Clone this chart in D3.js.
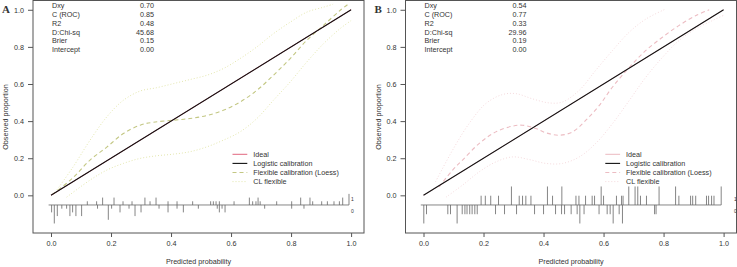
<!DOCTYPE html>
<html>
<head>
<meta charset="utf-8">
<script src="https://cdn.jsdelivr.net/npm/d3@7"></script>
<style>
  body { margin: 0; background: #fff; }
  text { font-family: "Liberation Sans", Arial, sans-serif; fill: #333; }
</style>
</head>
<body>
<div id="chart"></div>
<script>
// ---- data ----
const xTicks = [0, 0.2, 0.4, 0.6, 0.8, 1.0];
const yTicks = [0, 0.2, 0.4, 0.6, 0.8, 1.0];
const statLabels = ["Dxy", "C (ROC)", "R2", "D:Chi-sq", "Brier", "Intercept"];
const statsA = ["0.70", "0.85", "0.48", "45.68", "0.15", "0.00"];
const statsB = ["0.54", "0.77", "0.33", "29.96", "0.19", "0.00"];
const legendLabels = ["Ideal", "Logistic calibration", "Flexible calibration (Loess)", "CL flexible"];

const idealLine = [[0, 0], [1, 1]];
const logisticA = [[0, 0], [1, 1]];
const logisticB = [[0, 0], [1, 1]];

const flexA = [[0.005, 0.005], [0.07, 0.09], [0.13, 0.19], [0.186, 0.26], [0.241, 0.333], [0.297, 0.378],
  [0.341, 0.394], [0.408, 0.405], [0.463, 0.414], [0.519, 0.43], [0.574, 0.458], [0.63, 0.503],
  [0.686, 0.566], [0.741, 0.647], [0.797, 0.737], [0.852, 0.835], [0.908, 0.916], [0.963, 0.996], [0.99, 1.03]];
const clUpperA = [[0.02, 0.03], [0.074, 0.154], [0.13, 0.297], [0.186, 0.423], [0.241, 0.512], [0.297, 0.562],
  [0.352, 0.58], [0.408, 0.602], [0.463, 0.624], [0.519, 0.647], [0.574, 0.683], [0.63, 0.737],
  [0.686, 0.80], [0.741, 0.871], [0.797, 0.933], [0.852, 0.987], [0.908, 1.014], [0.94, 1.03]];
const clLowerA = [[0.052, -0.01], [0.13, 0.082], [0.186, 0.136], [0.241, 0.172], [0.297, 0.199], [0.352, 0.213],
  [0.408, 0.222], [0.463, 0.235], [0.519, 0.261], [0.574, 0.297], [0.63, 0.342], [0.686, 0.414],
  [0.741, 0.512], [0.797, 0.611], [0.852, 0.718], [0.908, 0.817], [0.963, 0.898], [1.0, 0.942]];

const flexB = [[0.052, 0.046], [0.097, 0.136], [0.13, 0.19], [0.186, 0.28], [0.241, 0.342], [0.297, 0.373],
  [0.33, 0.378], [0.374, 0.36], [0.408, 0.337], [0.452, 0.324], [0.497, 0.342], [0.541, 0.405],
  [0.586, 0.485], [0.63, 0.584], [0.686, 0.69], [0.741, 0.781], [0.797, 0.853], [0.852, 0.916],
  [0.908, 0.969], [0.952, 1.0]];
const clUpperB = [[0.04, 0.073], [0.097, 0.244], [0.152, 0.387], [0.208, 0.495], [0.263, 0.543], [0.308, 0.548],
  [0.363, 0.52], [0.419, 0.498], [0.463, 0.503], [0.519, 0.566], [0.574, 0.674], [0.63, 0.781],
  [0.686, 0.88], [0.741, 0.95], [0.808, 1.005]];
const clLowerB = [[0.075, -0.01], [0.13, 0.055], [0.186, 0.127], [0.241, 0.18], [0.297, 0.207], [0.352, 0.193],
  [0.408, 0.172], [0.463, 0.172], [0.519, 0.207], [0.574, 0.28], [0.63, 0.387], [0.686, 0.512],
  [0.741, 0.637], [0.797, 0.745], [0.852, 0.835], [0.908, 0.898], [0.963, 0.942], [1.0, 0.97]];

// rug: [predicted probability, count]
const rugA1 = [[0.121, 1], [0.152, 1], [0.172, 2], [0.21, 2], [0.24, 1], [0.27, 1], [0.313, 2], [0.33, 1],
  [0.35, 2], [0.39, 1], [0.42, 1], [0.472, 1], [0.532, 1], [0.541, 1], [0.55, 1], [0.561, 1], [0.61, 1],
  [0.661, 2], [0.672, 1], [0.683, 1], [0.69, 2], [0.697, 1], [0.752, 1], [0.802, 1], [0.832, 2],
  [0.863, 2], [0.872, 1], [0.902, 1], [0.921, 1], [0.943, 1], [0.961, 1], [0.972, 2], [0.993, 3]];
const rugA0 = [[0.002, 2], [0.011, 5], [0.021, 3], [0.036, 1], [0.052, 1], [0.063, 3], [0.072, 2], [0.083, 3],
  [0.102, 3], [0.155, 1], [0.191, 4], [0.202, 1], [0.23, 2], [0.26, 1], [0.28, 3], [0.3, 2], [0.36, 1],
  [0.39, 2], [0.42, 1], [0.441, 2], [0.491, 1], [0.554, 1], [0.561, 2], [0.57, 1], [0.58, 2], [0.712, 1],
  [0.802, 1], [0.843, 1]];
const rugB1 = [[0.192, 1], [0.206, 1], [0.224, 1], [0.25, 1], [0.293, 2], [0.319, 1], [0.33, 1], [0.341, 1],
  [0.358, 1], [0.413, 2], [0.43, 1], [0.461, 2], [0.508, 1], [0.518, 1], [0.54, 1], [0.562, 1], [0.57, 1],
  [0.592, 2], [0.6, 1], [0.643, 1], [0.66, 1], [0.665, 1], [0.684, 2], [0.705, 2], [0.714, 2], [0.723, 1],
  [0.743, 1], [0.785, 2], [0.84, 2], [0.851, 1], [0.89, 1], [0.897, 1], [0.907, 1], [0.943, 1], [0.95, 1],
  [0.96, 1], [0.968, 1], [0.992, 2]];
const rugB0 = [[0.001, 2], [0.01, 1], [0.081, 1], [0.09, 1], [0.112, 2], [0.129, 1], [0.138, 1], [0.145, 1],
  [0.154, 1], [0.162, 1], [0.171, 1], [0.179, 1], [0.24, 1], [0.27, 1], [0.31, 1], [0.37, 1], [0.4, 1],
  [0.44, 1], [0.46, 1], [0.47, 1], [0.492, 1], [0.512, 1], [0.521, 2], [0.535, 1], [0.585, 1], [0.612, 1],
  [0.622, 1], [0.632, 2], [0.652, 1], [0.663, 2], [0.77, 1], [0.775, 1]];

const panels = [
  { id: "A", dx: 0, stats: statsA, logistic: logisticA, flex: flexA, up: clUpperA, lo: clLowerA,
    rug1: rugA1, rug0: rugA0, rugLabelX: 1.0, legendX: 232.5,
    idealColor: "#e2677f", flexColor: "#c3c783", clColor: "#e3e6ad" },
  { id: "B", dx: 372.5, stats: statsB, logistic: logisticB, flex: flexB, up: clUpperB, lo: clLowerB,
    rug1: rugB1, rug0: rugB0, rugLabelX: 1.035, legendX: 232.8,
    idealColor: "#ebb9c0", flexColor: "#ecbcc2", clColor: "#f4d9dc" }
];

const fontSize = "7.2px";
const width = 737, height = 267;
const svg = d3.select("#chart").append("svg")
  .attr("width", width)
  .attr("height", height);

panels.forEach(p => drawPanel(p));

function drawPanel(p) {
  const g = svg.append("g").attr("transform", `translate(${p.dx},0)`);

  const x = d3.scaleLinear().domain([-0.06, 1.043]).range([33, 364]);
  const y = d3.scaleLinear().domain([-0.203, 1.05]).range([233, 0.5]);

  const clipId = "clip" + p.id;
  g.append("clipPath").attr("id", clipId)
    .append("rect")
    .attr("x", 33).attr("y", 0.5)
    .attr("width", 331).attr("height", 232.5);

  // box
  g.append("rect")
    .attr("x", 33).attr("y", 0.5)
    .attr("width", 331).attr("height", 232.5)
    .attr("fill", "none")
    .attr("stroke", "#555")
    .attr("stroke-width", 1);

  // axes
  const xAxis = d3.axisBottom(x).tickValues(xTicks).tickFormat(d3.format(".1f")).tickSize(4).tickPadding(4);
  const yAxis = d3.axisLeft(y).tickValues(yTicks).tickFormat(d3.format(".1f")).tickSize(5).tickPadding(4);

  const gx = g.append("g").attr("transform", "translate(0,233)").call(xAxis);
  const gy = g.append("g").attr("transform", "translate(33,0)").call(yAxis);
  [gx, gy].forEach(a => {
    a.select(".domain").remove();
    a.selectAll("line").attr("stroke", "#555");
    a.selectAll("text").style("font-size", fontSize).attr("fill", "#333");
  });

  // axis titles
  g.append("text")
    .attr("x", 198.5).attr("y", 264)
    .attr("text-anchor", "middle")
    .style("font-size", fontSize)
    .text("Predicted probability");
  g.append("text")
    .attr("transform", "translate(8,117) rotate(-90)")
    .attr("text-anchor", "middle")
    .style("font-size", fontSize)
    .text("Observed proportion");

  // panel letter
  g.append("text")
    .attr("x", 2).attr("y", 13)
    .style("font-family", "'Liberation Serif', 'Times New Roman', serif")
    .style("font-weight", "bold")
    .style("font-size", "11px")
    .attr("fill", "#111")
    .text(p.id);

  const line = d3.line()
    .x(d => x(d[0]))
    .y(d => y(d[1]))
    .curve(d3.curveCatmullRom.alpha(0.5));
  const straight = d3.line().x(d => x(d[0])).y(d => y(d[1]));

  const plot = g.append("g").attr("clip-path", `url(#${clipId})`);

  // confidence limits
  [p.up, p.lo].forEach(band => {
    plot.append("path")
      .datum(band)
      .attr("d", line)
      .attr("fill", "none")
      .attr("stroke", p.clColor)
      .attr("stroke-width", 1)
      .attr("stroke-dasharray", "1,2");
  });

  // flexible calibration
  plot.append("path")
    .datum(p.flex)
    .attr("d", line)
    .attr("fill", "none")
    .attr("stroke", p.flexColor)
    .attr("stroke-width", 1.1)
    .attr("stroke-dasharray", "4,3");

  // ideal line (under logistic)
  plot.append("path")
    .datum(idealLine)
    .attr("d", straight)
    .attr("fill", "none")
    .attr("stroke", p.idealColor)
    .attr("stroke-width", 1);

  // logistic calibration
  plot.append("path")
    .datum(p.logistic)
    .attr("d", straight)
    .attr("fill", "none")
    .attr("stroke", "#111")
    .attr("stroke-width", 1.1);

  // rug / distribution of predictions
  const baseY = y(-0.052);
  const maxCount = d3.max([...p.rug1, ...p.rug0], d => d[1]);
  const h = d3.scaleLinear().domain([0, maxCount]).range([0, 18.5]);
  const ext = d3.extent([...p.rug1, ...p.rug0], d => d[0]);

  g.append("line")
    .attr("x1", x(ext[0]) - 3).attr("x2", x(ext[1]))
    .attr("y1", baseY).attr("y2", baseY)
    .attr("stroke", "#666").attr("stroke-width", 0.8);

  g.selectAll(".rug1").data(p.rug1).enter().append("line")
    .attr("class", "rug1")
    .attr("x1", d => x(d[0])).attr("x2", d => x(d[0]))
    .attr("y1", baseY).attr("y2", d => baseY - h(d[1]))
    .attr("stroke", "#666").attr("stroke-width", 0.8);
  g.selectAll(".rug0").data(p.rug0).enter().append("line")
    .attr("class", "rug0")
    .attr("x1", d => x(d[0])).attr("x2", d => x(d[0]))
    .attr("y1", baseY).attr("y2", d => baseY + h(d[1]))
    .attr("stroke", "#666").attr("stroke-width", 0.8);

  g.append("text").attr("x", x(p.rugLabelX)).attr("y", baseY - 4)
    .style("font-size", "5px").attr("fill", "#333").text("1");
  g.append("text").attr("x", x(p.rugLabelX)).attr("y", baseY + 8)
    .style("font-size", "5px").attr("fill", "#333").text("0");

  // statistics block
  const stats = g.append("g");
  statLabels.forEach((lab, i) => {
    const yy = 8.4 + i * 8.7;
    stats.append("text").attr("x", 52).attr("y", yy)
      .style("font-size", fontSize).attr("fill", "#333").text(lab);
    stats.append("text").attr("x", 154).attr("y", yy)
      .attr("text-anchor", "end")
      .style("font-size", fontSize).attr("fill", "#333").text(p.stats[i]);
  });

  // legend
  const legStyles = [
    { color: p.idealColor, dash: null, w: 1 },
    { color: "#111", dash: null, w: 1.1 },
    { color: p.flexColor, dash: "4,3", w: 1.1 },
    { color: p.clColor, dash: "1,2", w: 1 }
  ];
  const lx0 = p.legendX, lx1 = p.legendX + 14.8;
  legendLabels.forEach((lab, i) => {
    const yy = 154.3 + i * 9.1;
    g.append("line")
      .attr("x1", lx0).attr("x2", lx1)
      .attr("y1", yy).attr("y2", yy)
      .attr("stroke", legStyles[i].color)
      .attr("stroke-width", legStyles[i].w)
      .attr("stroke-dasharray", legStyles[i].dash);
    g.append("text")
      .attr("x", lx1 + 6).attr("y", yy + 2.6)
      .style("font-size", fontSize)
      .attr("fill", "#333")
      .text(lab);
  });
}
</script>
</body>
</html>
